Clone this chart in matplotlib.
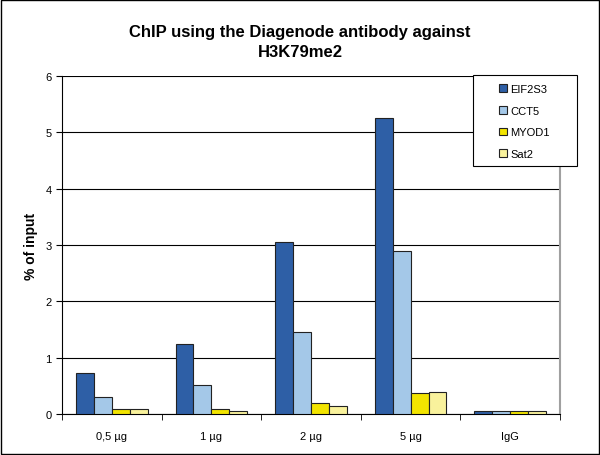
import matplotlib
matplotlib.use('Agg')
import matplotlib.pyplot as plt
import numpy as np

plt.rcParams['font.family'] = ['Liberation Sans', 'DejaVu Sans']

categories = ['0,5 µg', '1 µg', '2 µg', '5 µg', 'IgG']
series = ['EIF2S3', 'CCT5', 'MYOD1', 'Sat2']
eif2s3 = [0.73, 1.24, 3.05, 5.26, 0.05]
cct5 = [0.30, 0.51, 1.46, 2.90, 0.05]
myod1 = [0.08, 0.08, 0.20, 0.37, 0.05]
sat2 = [0.08, 0.06, 0.14, 0.39, 0.05]
colors = ['#2E5FA6', '#A4C8E8', '#F2E400', '#F9F29C']

W, H = 600, 456
fig = plt.figure(figsize=(W / 100, H / 100), dpi=100)
ax = fig.add_axes([62 / W, 1 - 415 / H, 498 / W, 338 / H])

x = np.arange(len(categories))
w = 0.18
for i, (vals, c, name) in enumerate(zip([eif2s3, cct5, myod1, sat2], colors, series)):
    ax.bar(x + (i - 1.5) * w, vals, w, color=c, edgecolor='#222222',
           linewidth=0.8, label=name, zorder=3)

ax.set_xlim(-0.5, len(categories) - 0.5)
ax.set_ylim(0, 6)
ax.set_yticks(range(0, 7))
ax.yaxis.grid(True, color='black', linewidth=0.8, zorder=0)
ax.set_xticks(x)
ax.set_xticklabels(categories, fontsize=8)
ax.set_xticks(np.arange(-0.5, len(categories)), minor=True)
ax.tick_params(axis='x', which='major', length=0, pad=12)
ax.tick_params(axis='x', which='minor', length=4, direction='out')
ax.tick_params(axis='y', labelsize=8, length=4, direction='out')
ax.set_ylabel('% of input', fontsize=10, fontweight='bold', labelpad=5)

ax.spines['top'].set_visible(False)
ax.spines['right'].set_color('#A0A0A0')
ax.spines['right'].set_linewidth(1.5)

fig.text(0.5, 1 - 57 / H, 'ChIP using the Diagenode antibody against\nH3K79me2',
         ha='center', va='baseline', fontsize=12, fontweight='bold',
         linespacing=1.45)

# legend box (frame drawn separately so it can be wider than its content)
fig.patches.append(plt.Rectangle((473 / W, 1 - 167 / H), 104 / W, 91 / H,
                                 transform=fig.transFigure, facecolor='white',
                                 edgecolor='black', linewidth=0.8, zorder=9))
leg = fig.legend(loc='upper left', bbox_to_anchor=(488 / W, 1 - 74 / H), fontsize=8,
                 frameon=False, handlelength=0.7, handleheight=0.7,
                 labelspacing=1.05, borderpad=0.5, handletextpad=0.3)
leg.set_zorder(10)

fig.patches.append(plt.Rectangle((0.002, 0.002), 0.996, 0.996, transform=fig.transFigure,
                                 fill=False, edgecolor='black', linewidth=1))

fig.savefig('out.png', dpi=100)
